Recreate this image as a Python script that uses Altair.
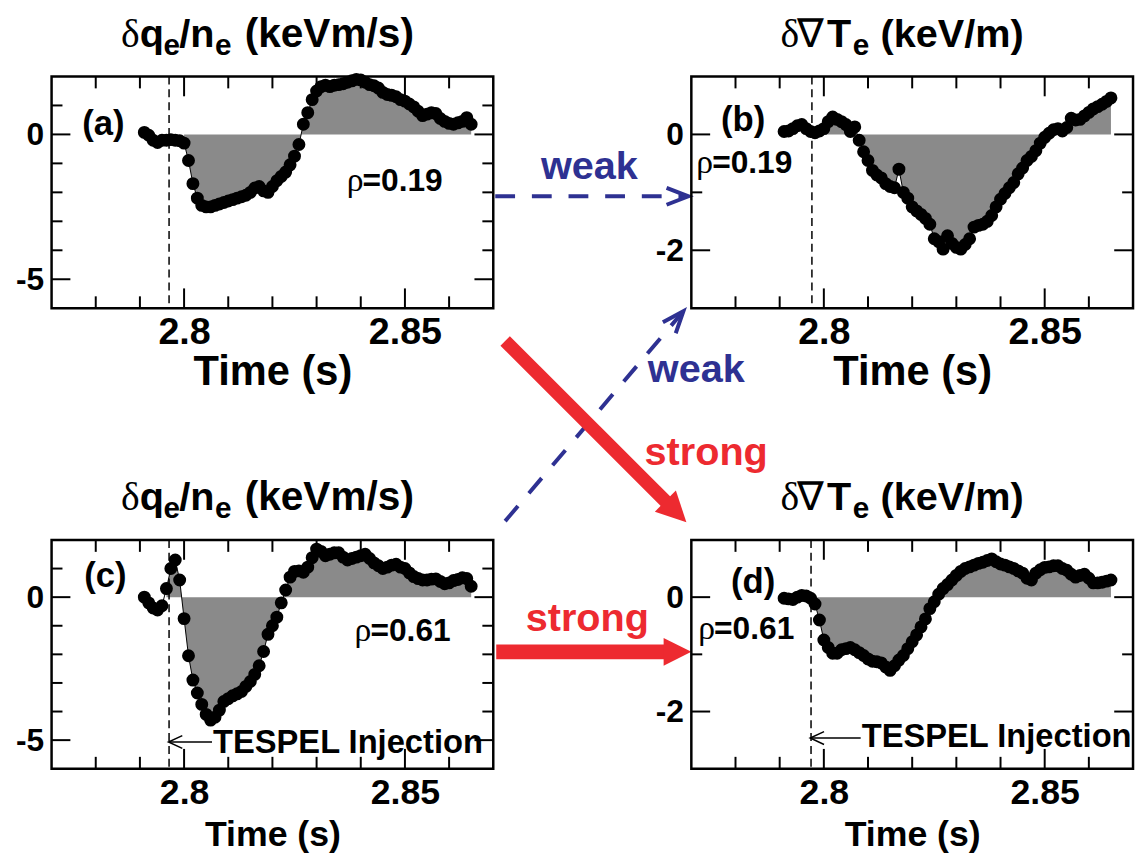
import math
import altair as alt
import pandas as pd

# ---------------- data ----------------
TIME = [2.791, 2.792, 2.793, 2.794, 2.795, 2.796, 2.797, 2.798, 2.799, 2.800,
        2.801, 2.802, 2.803, 2.804, 2.805, 2.806, 2.807, 2.808, 2.809, 2.810,
        2.811, 2.812, 2.813, 2.814, 2.815, 2.816, 2.817, 2.818, 2.819, 2.820,
        2.821, 2.822, 2.823, 2.824, 2.825, 2.826, 2.827, 2.828, 2.829, 2.830,
        2.831, 2.832, 2.833, 2.834, 2.835, 2.836, 2.837, 2.838, 2.839, 2.840,
        2.841, 2.842, 2.843, 2.844, 2.845, 2.846, 2.847, 2.848, 2.849, 2.850,
        2.851, 2.852, 2.853, 2.854, 2.855, 2.856, 2.857, 2.858, 2.859, 2.860,
        2.861, 2.862, 2.863, 2.864, 2.865]

# (a) dq_e/n_e at rho=0.19
QE_019 = [0.07, -0.03, -0.20, -0.28, -0.20, -0.20, -0.18, -0.20, -0.22, -0.30,
          -0.90, -1.70, -2.20, -2.45, -2.50, -2.50, -2.45, -2.40, -2.35, -2.30,
          -2.25, -2.20, -2.15, -2.10, -2.00, -1.85, -1.80, -1.95, -2.00, -1.80,
          -1.60, -1.45, -1.30, -1.05, -0.75, -0.35, 0.35, 0.75, 1.20, 1.50,
          1.65, 1.70, 1.65, 1.70, 1.72, 1.75, 1.80, 1.85, 1.90, 1.88,
          1.80, 1.72, 1.68, 1.60, 1.45, 1.38, 1.35, 1.30, 1.20, 1.15,
          1.05, 0.95, 0.80, 0.65, 0.70, 0.75, 0.72, 0.55, 0.45, 0.38,
          0.35, 0.40, 0.45, 0.58, 0.35]

# (b) d gradTe at rho=0.19
GT_019 = [0.05, 0.06, 0.10, 0.15, 0.17, 0.10, 0.05, 0.03, 0.06, 0.10,
          0.22, 0.30, 0.26, 0.22, 0.17, 0.05, 0.13, -0.10, -0.30, -0.45,
          -0.62, -0.70, -0.75, -0.85, -0.90, -0.92, -0.60, -1.00, -1.10, -1.25,
          -1.32, -1.38, -1.45, -1.55, -1.80, -1.85, -1.98, -1.75, -1.88, -1.95,
          -1.98, -1.90, -1.80, -1.60, -1.57, -1.55, -1.50, -1.40, -1.25, -1.12,
          -1.02, -0.92, -0.83, -0.68, -0.58, -0.45, -0.38, -0.28, -0.15, -0.05,
          0.02, 0.08, 0.10, 0.06, 0.12, 0.28, 0.25, 0.26, 0.32, 0.38,
          0.44, 0.48, 0.52, 0.57, 0.63]

# (c) dq_e/n_e at rho=0.61
QE_061 = [0.00, -0.20, -0.38, -0.45, -0.30, 0.30, 1.00, 1.30, 0.60, -0.75,
          -2.05, -2.90, -3.35, -3.75, -4.10, -4.30, -4.20, -3.95, -3.65, -3.55,
          -3.45, -3.38, -3.30, -3.12, -2.95, -2.70, -2.40, -1.90, -1.30, -1.00,
          -0.70, -0.20, 0.25, 0.70, 0.90, 0.92, 0.87, 1.05, 1.38, 1.68,
          1.60, 1.45, 1.50, 1.55, 1.55, 1.40, 1.30, 1.35, 1.40, 1.45,
          1.50, 1.35, 1.20, 1.10, 1.00, 1.05, 1.12, 1.15, 1.05, 1.00,
          0.85, 0.72, 0.65, 0.60, 0.60, 0.63, 0.64, 0.55, 0.47, 0.50,
          0.58, 0.62, 0.68, 0.65, 0.38]

# (d) d gradTe at rho=0.61
GT_061 = [-0.02, -0.03, -0.04, 0.00, 0.03, 0.02, -0.02, -0.12, -0.40, -0.75,
          -0.88, -0.98, -0.98, -0.92, -0.90, -0.88, -0.92, -0.97, -1.02, -1.08,
          -1.12, -1.13, -1.15, -1.22, -1.28, -1.20, -1.10, -1.02, -0.90, -0.78,
          -0.66, -0.52, -0.38, -0.20, -0.08, 0.05, 0.15, 0.22, 0.30, 0.38,
          0.45, 0.50, 0.53, 0.56, 0.59, 0.61, 0.64, 0.67, 0.62, 0.58,
          0.56, 0.53, 0.50, 0.46, 0.42, 0.33, 0.30, 0.42, 0.48, 0.52,
          0.53, 0.55, 0.55, 0.50, 0.47, 0.40, 0.35, 0.38, 0.40, 0.33,
          0.25, 0.25, 0.26, 0.28, 0.30]

X_DOMAIN = [2.77, 2.87]
X_MAJOR = [2.8, 2.85]
X_MINOR = [2.78, 2.79, 2.81, 2.82, 2.83, 2.84, 2.86]
Q_DOMAIN = [-6, 2]
Q_MAJOR = [0, -5]
Q_MINOR = [1, -1, -2, -3, -4]
G_DOMAIN = [-3, 1]
G_MAJOR = [0, -2]
G_MINOR = [-1]
TESPEL_T = {"a": 2.7966, "b": 2.7973, "c": 2.7966, "d": 2.7971}
FILL_START = {"a": 2.800, "b": 2.800, "c": 2.796, "d": 2.798}

# ---------------- styling / layout ----------------
FONT = "Liberation Sans"
SERIF = "Liberation Serif"
BLUE = "#2E3192"
RED = "#ED2A30"
HATCH = "#8a8a8a"
W = 446
H_TOP = 234
H_BOT = 231
ROW_GAP = 234
ORIGIN = {"a": (49, 73), "b": (695, 73), "c": (49, 538), "d": (695, 538)}
ONE = pd.DataFrame({"k": [0]})


def text(s, x, y, size, origin, color="black", font=FONT, weight="bold", align="left"):
    ox, oy = origin
    return alt.Chart(ONE).mark_text(
        text=s, font=font, fontSize=size, fontWeight=weight, color=color,
        align=align, baseline="alphabetic"
    ).encode(x=alt.value(x - ox), y=alt.value(y - oy))


def arrow(x1, y1, x2, y2, origin, color, width, head_len, head_half, filled, dash=None):
    ox, oy = origin
    dx, dy = x2 - x1, y2 - y1
    L = math.hypot(dx, dy)
    ux, uy = dx / L, dy / L
    ang = math.degrees(math.atan2(dy, dx)) % 360
    r = head_len / 2.0
    cx, cy = x2 - ux * r, y2 - uy * r
    if filled:
        ex, ey = x2 - ux * head_len * 0.8, y2 - uy * head_len * 0.8
    else:
        ex, ey = x2 - ux * 1.5, y2 - uy * 1.5
    kw = dict(color=color, strokeWidth=width, strokeCap="butt")
    if dash is not None:
        kw["strokeDash"] = dash
    shaft = alt.Chart(ONE).mark_rule(**kw).encode(
        x=alt.value(x1 - ox), y=alt.value(y1 - oy),
        x2=alt.value(ex - ox), y2=alt.value(ey - oy))
    h = head_half / r
    if filled:
        path = f"M1,0L-1,{-h:.3f}L-1,{h:.3f}Z"
        head = alt.Chart(ONE).mark_point(
            shape=path, size=head_len ** 2, angle=ang, filled=True,
            color=color, opacity=1, strokeWidth=0)
    else:
        path = f"M-1,{-h:.3f}L1,0L-1,{h:.3f}"
        head = alt.Chart(ONE).mark_point(
            shape=path, size=head_len ** 2, angle=ang, filled=False,
            color=color, opacity=1, strokeWidth=width, strokeJoin="miter")
    head = head.encode(x=alt.value(cx - ox), y=alt.value(cy - oy))
    return [shaft, head]


def panel(key, values, ydom, ymajor, yminor, height, top):
    df = pd.DataFrame({"t": TIME, "v": values})
    x_enc = alt.X(
        "t:Q", scale=alt.Scale(domain=X_DOMAIN, nice=False, zero=False),
        axis=alt.Axis(values=X_MAJOR, format=".3~g", title="Time (s)",
                      labelFontSize=38 if top else 36,
                      titleFontSize=42 if top else 36,
                      labelPadding=6 if top else 7,
                      titlePadding=0 if top else 8))
    y_enc = alt.Y(
        "v:Q", scale=alt.Scale(domain=ydom, nice=False, zero=False),
        axis=alt.Axis(values=ymajor, title=None,
                      labelExpr="datum.value < 0 ? '-' + abs(datum.value) : '' + datum.value"))
    base = alt.Chart(df)
    layers = [
        base.transform_filter(alt.datum.t >= FILL_START[key] - 0.0001)
        .mark_area(color=HATCH, opacity=1)
        .encode(x=x_enc, y=y_enc, y2=alt.datum(0)),
        base.mark_line(color="black", strokeWidth=1).encode(x=x_enc, y=y_enc),
        base.mark_circle(size=170, color="black", opacity=1).encode(x=x_enc, y=y_enc),
        alt.Chart(pd.DataFrame({"t": [TESPEL_T[key]]}))
        .mark_rule(color="black", strokeWidth=1.5, strokeDash=[8, 5])
        .encode(x=x_enc),
    ]
    # inward ticks on all four sides
    for vals, L in ((X_MAJOR, 20), (X_MINOR, 12)):
        d = alt.Chart(pd.DataFrame({"t": vals}))
        layers.append(d.mark_rule(color="black", strokeWidth=2).encode(
            x=x_enc, y=alt.value(0), y2=alt.value(L)))
        layers.append(d.mark_rule(color="black", strokeWidth=2).encode(
            x=x_enc, y=alt.value(height - L), y2=alt.value(height)))
    for vals, L in ((ymajor, 19), (yminor, 11)):
        d = alt.Chart(pd.DataFrame({"v": vals}))
        layers.append(d.mark_rule(color="black", strokeWidth=2).encode(
            y=y_enc, x=alt.value(0), x2=alt.value(L)))
        layers.append(d.mark_rule(color="black", strokeWidth=2).encode(
            y=y_enc, x=alt.value(W - L), x2=alt.value(W)))
    return layers


def q_title(o, base_y):
    sub = base_y + 8
    return [
        text("δ", 119, base_y, 40, o, font=SERIF, weight="normal"),
        text("q", 138, base_y, 40, o),
        text("e", 162, sub, 30, o),
        text("/n", 178, base_y, 40, o),
        text("e", 214, sub, 30, o),
        text("(keVm/s)", 244, base_y, 41, o),
    ]


def g_title(o, base_y):
    sub = base_y + 8
    return [
        text("δ", 785, base_y, 40, o, font=SERIF, weight="normal"),
        text("∇", 802, base_y, 40, o, font=SERIF, weight="normal"),
        text("T", 832, base_y, 40, o),
        text("e", 858, sub, 30, o),
        text("(keV/m)", 886, base_y, 40, o),
    ]


def rho(label, x, y, o):
    return [text("ρ", x, y, 34, o, font=SERIF, weight="normal"),
            text(label, x + 16, y, 32, o)]


def tespel(x_tip, x_end, y_line, x_text, y_text, o):
    return (arrow(x_end, y_line, x_tip, y_line, o, "black", 1.5, 14, 6.5, False)
            + [text("TESPEL Injection", x_text, y_text, 33, o)])


# ----- panel (a) + the connecting arrows (drawn from panel a's frame) -----
oa = ORIGIN["a"]
la = panel("a", QE_019, Q_DOMAIN, Q_MAJOR, Q_MINOR, H_TOP, True)
la += q_title(oa, 43)
la += [text("(a)", 80, 132, 35, oa)]
la += rho("=0.19", 347, 189, oa)
la += arrow(497, 194, 692, 194, oa, BLUE, 4, 22, 8.5, False, dash=[20, 17])
la += [text("weak", 592, 177, 40, oa, color=BLUE, align="center")]
la += arrow(507, 522, 687, 310, oa, BLUE, 4, 22, 8.5, False, dash=[20, 17])
la += [text("weak", 700, 382, 40, oa, color=BLUE, align="center")]
la += arrow(507, 340, 690, 523, oa, RED, 13.5, 30, 15, True)
la += [text("strong", 710, 465, 40, oa, color=RED, align="center")]
la += arrow(498, 654, 695, 654, oa, RED, 15, 28, 14, True)
la += [text("strong", 590, 633, 40, oa, color=RED, align="center")]
pa = alt.layer(*la).properties(width=W, height=H_TOP)

# ----- panel (b) -----
ob = ORIGIN["b"]
lb = panel("b", GT_019, G_DOMAIN, G_MAJOR, G_MINOR, H_TOP, True)
lb += g_title(ob, 43)
lb += [text("(b)", 725, 128, 35, ob)]
lb += rho("=0.19", 700, 170, ob)
pb = alt.layer(*lb).properties(width=W, height=H_TOP)

# ----- panel (c) -----
oc = ORIGIN["c"]
lc = panel("c", QE_061, Q_DOMAIN, Q_MAJOR, Q_MINOR, H_BOT, False)
lc += q_title(oc, 508)
lc += [text("(c)", 82, 585, 35, oc)]
lc += rho("=0.61", 355, 640, oc)
lc += tespel(167, 211, 742, 212, 753, oc)
pc = alt.layer(*lc).properties(width=W, height=H_BOT)

# ----- panel (d) -----
od = ORIGIN["d"]
ld = panel("d", GT_061, G_DOMAIN, G_MAJOR, G_MINOR, H_BOT, False)
ld += g_title(od, 508)
ld += [text("(d)", 735, 592, 35, od)]
ld += rho("=0.61", 702, 638, od)
ld += tespel(815, 866, 738, 867, 747, od)
pdd = alt.layer(*ld).properties(width=W, height=H_BOT)

chart = (
    alt.concat(pa, pb, pc, pdd, columns=2,
               spacing={"row": ROW_GAP, "column": 695 - 49 - W},
               bounds="flush")
    .resolve_scale(x="independent", y="independent")
    .properties(padding={"left": 6, "top": 0, "right": 0, "bottom": 0})
    .configure_view(stroke="black", strokeWidth=2.5)
    .configure_axis(domain=False, ticks=False, tickSize=0, grid=False,
                    labelFont=FONT, labelFontWeight="bold", labelColor="black",
                    titleFont=FONT, titleFontWeight="bold", titleColor="black")
    .configure_axisY(labelFontSize=32, labelPadding=8)
)

chart.save("out.html", embed_options={"renderer": "svg", "actions": False})
